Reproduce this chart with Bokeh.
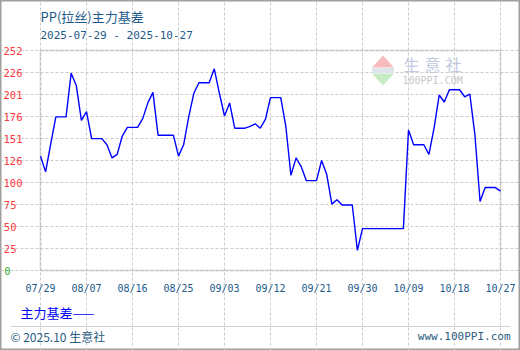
import pandas as pd
from bokeh.plotting import figure
from bokeh.models import (Range1d, FixedTicker, DatetimeTickFormatter, Label,
                          BoxAnnotation, PolyAnnotation, LinearAxis)
from bokeh.embed import file_html
from bokeh.resources import INLINE

# ---------------- data ----------------
title_text = "PP(拉丝)主力基差"
subtitle_text = "2025-07-29 - 2025-10-27"
start_date = "2025-07-29"
basis_values = [
    131, 113, 145, 176, 176, 176, 226, 212, 172, 182,
    151, 151, 151, 144, 129, 133, 154, 164, 164, 164,
    174, 192, 204, 155, 155, 155, 155, 131, 144, 176,
    203, 215, 215, 215, 231, 203, 177, 192, 163, 163,
    163, 165, 168, 163, 173, 198, 198, 198, 165, 109,
    129, 119, 103, 103, 103, 126, 110, 76, 81, 75,
    75, 75, 23, 48, 48, 48, 48, 48, 48, 48,
    48, 48, 161, 144, 144, 144, 133, 163, 201, 193,
    207, 207, 207, 199, 202, 155, 79, 95, 95, 95,
    91,
]
x_tick_dates = ["2025-07-29", "2025-08-07", "2025-08-16", "2025-08-25",
                "2025-09-03", "2025-09-12", "2025-09-21", "2025-09-30",
                "2025-10-09", "2025-10-18", "2025-10-27"]
y_ticks = [0, 25.2, 50.4, 75.6, 100.8, 126, 151.2, 176.4, 201.6, 226.8, 252]
y_tick_labels = ["0", "25", "50", "75", "100", "126", "151", "176", "201", "226", "252"]
legend_text = "主力基差——"
footer_left = "© 2025.10 生意社"
footer_right = "www.100PPI.com"
wm_chars = ["生", "意", "社"]
wm_sub = "100PPI.COM"

dates = pd.date_range(start_date, periods=len(basis_values), freq="D")
x_tick_ms = [pd.Timestamp(d).timestamp() * 1000 for d in x_tick_dates]
y_min, y_max = y_ticks[0], y_ticks[-1]

# ---------------- layout geometry (canvas pixels) ----------------
W, H = 520, 350
PL, PR, PT, PB = 40, 500, 50, 270  # plot area box
CJK = "Noto Sans CJK SC"
MONO = "DejaVu Sans Mono"
DARK = "#1d5a8a"

x0_ms = pd.Timestamp(dates[0]).timestamp() * 1000
x1_ms = pd.Timestamp(dates[-1]).timestamp() * 1000
ms_per_px = (x1_ms - x0_ms) / (PR - PL)
u_per_px = (y_max - y_min) / (PB - PT)
x_range = Range1d(x0_ms - PL * ms_per_px, x1_ms + (W - PR) * ms_per_px)
y_range = Range1d(y_min - (H - PB) * u_per_px, y_max + PT * u_per_px)


def sy(cy):  # canvas y (top-down) -> screen units (bottom-up)
    return H - cy


p = figure(width=W, height=H, x_axis_type="datetime",
           output_backend="svg", toolbar_location=None,
           x_range=x_range, y_range=y_range, min_border=0)
p.title.visible = False
p.background_fill_color = "white"
p.border_fill_color = "white"
p.outline_line_color = "#a0a0a0"
p.outline_line_width = 2

# x axis fixed at y = 0
xa = p.xaxis[0]
xa.fixed_location = y_min
xa.ticker = FixedTicker(ticks=x_tick_ms)
fmt = "%m/%d"
xa.formatter = DatetimeTickFormatter(days=fmt, months=fmt, years=fmt,
                                     hours=fmt, hourmin=fmt, minutes=fmt)
xa.axis_line_color = None
xa.major_tick_line_color = None
xa.minor_tick_line_color = None
xa.major_tick_out = 0
xa.major_tick_in = 0
xa.major_label_standoff = 12
xa.major_label_text_color = DARK
xa.major_label_text_font = MONO
xa.major_label_text_font_size = "10px"

# y axes fixed at the first date; grouped so labels start at the same x
groups = [
    ([t for t, l in zip(y_ticks, y_tick_labels) if len(l) == 3], "#ff3a3a", 18),
    ([t for t, l in zip(y_ticks, y_tick_labels) if len(l) == 2], "#ff3a3a", 24),
    ([t for t, l in zip(y_ticks, y_tick_labels) if len(l) == 1], "#33aa33", 30),
]
label_map = {str(t): l for t, l in zip(y_ticks, y_tick_labels)}
yaxes = [p.yaxis[0]]
for _ in groups[1:]:
    ax = LinearAxis()
    p.add_layout(ax, "left")
    yaxes.append(ax)
for ax, (ticks, color, standoff) in zip(yaxes, groups):
    ax.fixed_location = x0_ms
    ax.ticker = FixedTicker(ticks=ticks)
    ax.major_label_overrides = {t: label_map[str(t)] for t in ticks}
    ax.axis_line_color = None
    ax.major_tick_line_color = None
    ax.minor_tick_line_color = None
    ax.major_tick_out = 0
    ax.major_tick_in = 0
    ax.major_label_standoff = standoff
    ax.major_label_text_color = color
    ax.major_label_text_font = MONO
    ax.major_label_text_font_size = "10.5px"

# grids limited to the plot box
p.xgrid.ticker = FixedTicker(ticks=x_tick_ms)
p.ygrid.ticker = FixedTicker(ticks=y_ticks)
p.xgrid.bounds = (y_min, y_max)
p.ygrid.bounds = (x0_ms, x1_ms)
for g in (p.xgrid, p.ygrid):
    g.grid_line_color = "#cccccc"
    g.grid_line_dash = "3 2"
    g.grid_line_width = 1

# plot box
p.add_layout(BoxAnnotation(left=x0_ms, right=x1_ms, bottom=y_min, top=y_max,
                           fill_alpha=0, line_color="#a0a0a0", line_width=2,
                           level="underlay"))

# watermark
p.add_layout(PolyAnnotation(xs=[382.5, 371.5, 393.5], ys=[sy(55), sy(67), sy(67)],
                            xs_units="screen", ys_units="screen",
                            fill_color="#f6bcbc", fill_alpha=1, line_color=None,
                            level="underlay"))
p.add_layout(PolyAnnotation(xs=[371.5, 393.5, 382.5], ys=[sy(73), sy(73), sy(85)],
                            xs_units="screen", ys_units="screen",
                            fill_color="#c6ecc6", fill_alpha=1, line_color=None,
                            level="underlay"))
p.add_layout(BoxAnnotation(left=371.5, right=393.5, top=sy(67.5), bottom=sy(72.5),
                           left_units="screen", right_units="screen",
                           top_units="screen", bottom_units="screen",
                           fill_color="#dfe3ee", fill_alpha=1, line_color=None,
                           level="underlay"))
for ch, cx in zip(wm_chars, [411, 432, 453]):
    p.add_layout(Label(x=cx, y=sy(63), x_units="screen", y_units="screen",
                       text=ch, text_font=CJK, text_font_size="16px",
                       text_color="#c2cadf", text_align="center",
                       text_baseline="middle", level="underlay"))
p.add_layout(Label(x=402, y=sy(80), x_units="screen", y_units="screen",
                   text=wm_sub, text_font=MONO, text_font_size="10px",
                   text_color="#c8c8c8", text_align="left",
                   text_baseline="middle", level="underlay"))

# data line
p.line(dates, basis_values, line_color="#0000ff", line_width=1.4)

# titles
p.add_layout(Label(x=40, y=sy(16), x_units="screen", y_units="screen",
                   text=title_text, text_font=CJK, text_font_size="13px",
                   text_color=DARK, text_align="left", text_baseline="middle"))
p.add_layout(Label(x=40, y=sy(35), x_units="screen", y_units="screen",
                   text=subtitle_text, text_font=MONO, text_font_size="11px",
                   text_color=DARK, text_align="left", text_baseline="middle"))

# legend
p.add_layout(Label(x=20, y=sy(312), x_units="screen", y_units="screen",
                   text=legend_text, text_font=CJK, text_font_size="13px",
                   text_color="#0000ff", text_align="left", text_baseline="middle"))

# footer separator and texts
p.add_layout(BoxAnnotation(left=10, right=510, top=sy(326), bottom=sy(326),
                           left_units="screen", right_units="screen",
                           top_units="screen", bottom_units="screen",
                           fill_alpha=0, line_color="#aaaaaa", line_width=1))
p.add_layout(Label(x=10, y=sy(336), x_units="screen", y_units="screen",
                   text=footer_left, text_font=CJK, text_font_size="12px",
                   text_color="#2a5d80", text_align="left", text_baseline="middle"))
p.add_layout(Label(x=510, y=sy(336), x_units="screen", y_units="screen",
                   text=footer_right, text_font=MONO, text_font_size="11px",
                   text_color="#2a5d80", text_align="right", text_baseline="middle"))

open("out.html", "w").write(file_html(p, INLINE))
